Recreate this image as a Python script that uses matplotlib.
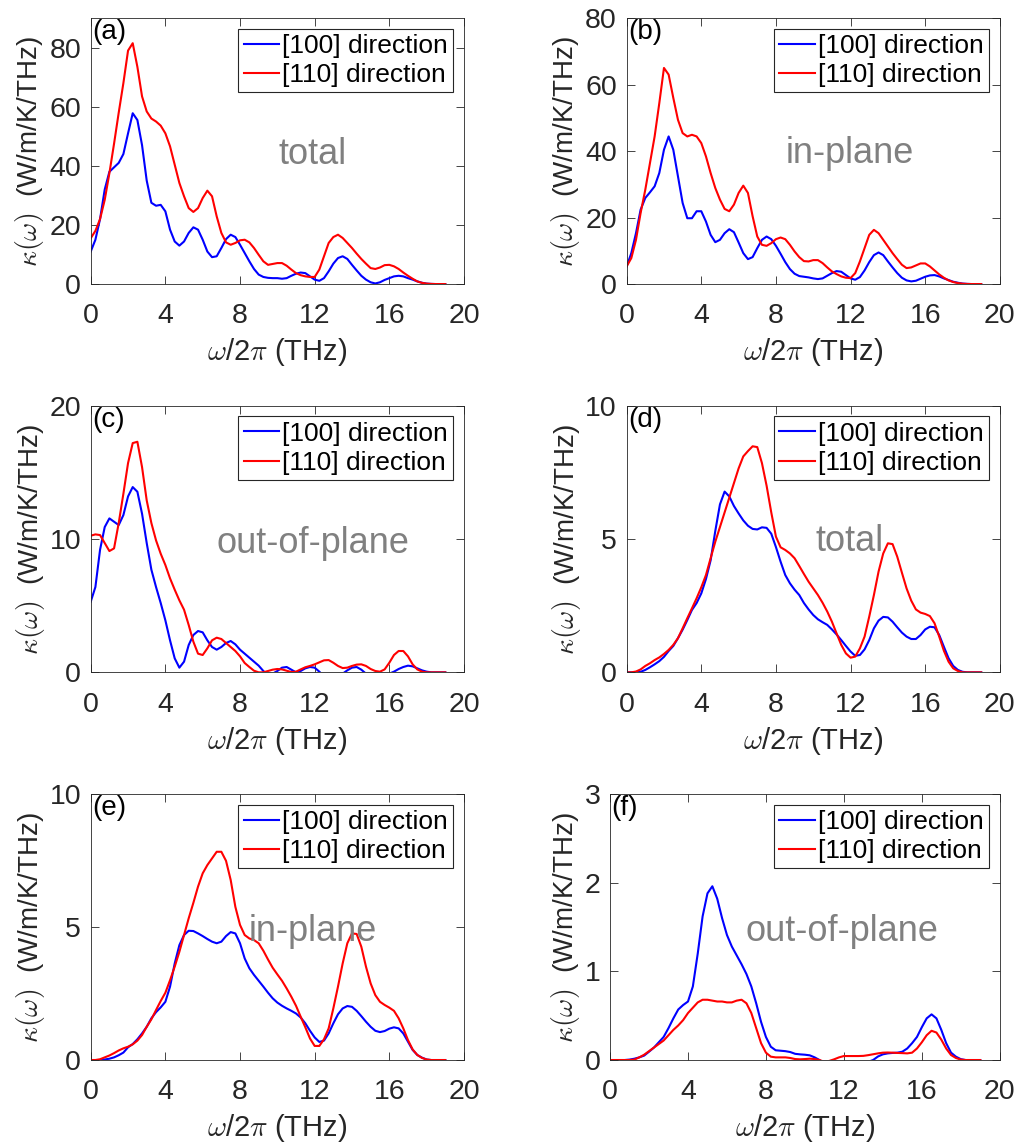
import numpy as np
import matplotlib
matplotlib.use('Agg')
import matplotlib.pyplot as plt

plt.rcParams['font.family'] = ['Liberation Sans', 'DejaVu Sans']
plt.rcParams['mathtext.fontset'] = 'cm'

# frequency grid (THz), 0 .. 19 in steps of 0.25
freq = np.arange(77) * 0.25

# (a) total, bulk-like
a_100 = [11, 15, 22, 32, 38, 39.5, 41, 44,
         51, 57.8, 55.5, 47, 35, 27.5, 26.5, 26.8,
         24.6, 18.4, 14.4, 13, 14.4, 17.3, 19.2, 18.4,
         15, 11, 9.1, 9.4, 12.2, 15.2, 16.7, 15.9,
         13.3, 10.5, 7.7, 5.1, 3.2, 2.4, 2.1, 2.0,
         2.0, 1.8, 2.0, 2.8, 3.5, 3.9, 3.7, 2.6,
         1.5, 1.1, 2.0, 4.3, 6.9, 8.8, 9.4, 8.5,
         6.5, 4.6, 2.8, 1.5, 0.6, 0.2, 0.6, 1.4,
         2.0, 2.6, 2.8, 2.6, 2.0, 1.5, 0.9, 0.45,
         0.15, 0.05, 0, 0, 0]
a_110 = [15.5, 18, 22, 28.5, 37.5, 47.5, 58, 68,
         79, 81.5, 73.5, 63.5, 58.4, 56, 55, 53.6,
         51, 46.6, 40.4, 34.2, 29.7, 25.7, 24.4, 25.7,
         29.1, 31.6, 29.7, 22.9, 17.3, 14.1, 13.3, 13.9,
         14.8, 15.0, 14.1, 12.2, 9.9, 7.7, 6.5, 6.8,
         7.1, 7.1, 6.2, 4.9, 3.7, 3.0, 2.6, 2.4,
         2.4, 4.9, 9.4, 13.9, 15.9, 16.7, 15.6, 13.9,
         12.2, 10.3, 8.5, 6.9, 5.4, 5.1, 5.6, 6.4,
         6.5, 6.0, 5.1, 3.9, 2.8, 1.8, 0.9, 0.4,
         0.15, 0.05, 0, 0, 0]

# (b) in-plane
b_100 = [5.3, 9.3, 15.3, 22.4, 25.9, 27.6, 29.4, 33.4,
         40.4, 44.4, 40.4, 32.4, 24.4, 19.8, 19.8, 21.9,
         21.9, 18.8, 14.8, 12.6, 13.3, 15.3, 16.5, 15.6,
         12.5, 9.3, 7.5, 8.1, 10.8, 13.3, 14.3, 13.5,
         11.5, 9.1, 6.6, 4.5, 3.1, 2.4, 2.2, 2.0,
         1.7, 1.5, 1.7, 2.5, 3.3, 3.9, 3.7, 2.7,
         1.7, 1.3, 2.1, 4.1, 6.6, 8.7, 9.5, 8.7,
         6.8, 5.0, 3.3, 1.9, 1.1, 0.8, 1.0, 1.6,
         2.2, 2.6, 2.7, 2.3, 1.7, 1.2, 0.7, 0.4,
         0.15, 0.05, 0, 0, 0]
b_110 = [5.3, 7.8, 13.3, 21.4, 28.4, 36.4, 44.4, 54.4,
         65, 63, 56, 49.4, 45.4, 44.4, 44.9, 44.4,
         42.4, 38.4, 33.4, 28.9, 25.4, 22.6, 21.9, 23.9,
         27.4, 29.6, 27.4, 20.4, 14.3, 11.8, 11.5, 12.3,
         13.5, 14.0, 13.5, 11.8, 9.8, 8.1, 6.9, 6.8,
         7.2, 7.2, 6.3, 5.0, 3.8, 3.0, 2.3, 1.9,
         1.8, 3.3, 6.8, 10.8, 14.8, 16.3, 15.3, 13.3,
         11.3, 9.3, 7.5, 5.8, 4.8, 5.0, 5.6, 6.2,
         6.2, 5.3, 4.1, 2.9, 1.9, 1.1, 0.6, 0.3,
         0.1, 0.03, 0, 0, 0]

# (c) out-of-plane
c_100 = [5.3, 6.4, 9.2, 10.9, 11.55, 11.3, 11.05, 11.8,
         13.2, 13.9, 13.55, 11.9, 9.7, 7.7, 6.4, 5.2,
         3.9, 2.4, 1.05, 0.35, 0.8, 2.05, 2.8, 3.1,
         3.0, 2.4, 1.9, 1.7, 1.9, 2.2, 2.35, 2.1,
         1.7, 1.4, 1.1, 0.8, 0.5, 0.1, -0.2, -0.1,
         0.1, 0.35, 0.4, 0.2, 0.0, 0.1, 0.3, 0.4,
         0.35, 0.05, -0.3, -0.4, -0.4, -0.3, -0.1, 0.15,
         0.35, 0.4, 0.2, -0.1, -0.3, -0.4, -0.4, -0.3,
         -0.1, 0.05, 0.25, 0.4, 0.5, 0.45, 0.3, 0.15,
         0.05, 0, 0, 0, 0]
c_110 = [10.25, 10.35, 10.3, 9.7, 9.1, 9.3, 11.2, 13.4,
         15.7, 17.2, 17.3, 15.4, 12.9, 11.2, 9.9, 8.9,
         8.05, 7.05, 6.2, 5.4, 4.7, 3.55, 2.3, 1.4,
         1.3, 1.8, 2.4, 2.6, 2.5, 2.2, 1.9, 1.6,
         1.2, 0.7, 0.4, 0.12, 0.0, 0.0, 0.1, 0.2,
         0.25, 0.22, 0.12, 0.02, 0.05, 0.22, 0.38, 0.48,
         0.6, 0.75, 0.9, 0.92, 0.72, 0.48, 0.32, 0.35,
         0.48, 0.58, 0.6, 0.48, 0.25, 0.1, 0.05, 0.22,
         0.72, 1.3, 1.6, 1.6, 1.2, 0.6, 0.22, 0.05,
         0, 0, 0, 0, 0]

# (d) total, second system
d_100 = [0, 0, 0, 0.02, 0.09, 0.19, 0.3, 0.42,
         0.58, 0.8, 0.99, 1.28, 1.6, 1.96, 2.34, 2.6,
         2.96, 3.5, 4.2, 5.3, 6.3, 6.78, 6.6, 6.24,
         5.96, 5.7, 5.5, 5.38, 5.36, 5.44, 5.42, 5.2,
         4.7, 4.15, 3.65, 3.34, 3.1, 2.9, 2.6, 2.36,
         2.15, 1.99, 1.88, 1.78, 1.61, 1.42, 1.21, 0.99,
         0.78, 0.62, 0.65, 0.86, 1.21, 1.65, 1.94, 2.08,
         2.06, 1.9, 1.69, 1.49, 1.34, 1.25, 1.25, 1.4,
         1.61, 1.71, 1.69, 1.4, 0.96, 0.53, 0.24, 0.09,
         0.02, 0, 0, 0, 0]
d_110 = [0, 0, 0.03, 0.11, 0.24, 0.34, 0.46, 0.56,
         0.69, 0.84, 1.03, 1.28, 1.65, 2.03, 2.4, 2.78,
         3.19, 3.65, 4.28, 4.9, 5.45, 6.0, 6.55, 7.1,
         7.65, 8.1, 8.3, 8.48, 8.45, 7.85, 7.0, 6.0,
         5.09, 4.69, 4.59, 4.46, 4.28, 3.99, 3.69, 3.4,
         3.15, 2.9, 2.61, 2.28, 1.9, 1.46, 1.03, 0.71,
         0.55, 0.59, 0.9, 1.34, 2.09, 2.9, 3.78, 4.46,
         4.84, 4.81, 4.34, 3.74, 3.15, 2.69, 2.36, 2.24,
         2.19, 2.11, 1.84, 1.34, 0.81, 0.4, 0.15, 0.05,
         0, 0, 0, 0, 0]

# (e) in-plane, second system
e_100 = [0, 0, 0, 0.02, 0.05, 0.1, 0.18, 0.28,
         0.48, 0.6, 0.78, 1.0, 1.25, 1.57, 1.8, 1.98,
         2.19, 2.76, 3.63, 4.32, 4.7, 4.86, 4.85, 4.76,
         4.66, 4.55, 4.45, 4.39, 4.45, 4.66, 4.81, 4.76,
         4.39, 3.82, 3.45, 3.2, 2.98, 2.76, 2.53, 2.32,
         2.16, 2.04, 1.94, 1.85, 1.75, 1.6, 1.38, 1.1,
         0.85, 0.68, 0.73, 1.0, 1.38, 1.72, 1.94, 2.03,
         2.0, 1.85, 1.65, 1.44, 1.25, 1.1, 1.05, 1.09,
         1.18, 1.23, 1.19, 1.0, 0.69, 0.38, 0.19, 0.09,
         0.02, 0, 0, 0, 0]
e_110 = [0, 0, 0.03, 0.1, 0.17, 0.26, 0.36, 0.44,
         0.5, 0.59, 0.73, 0.94, 1.25, 1.53, 1.88, 2.22,
         2.53, 3.0, 3.51, 4.07, 4.7, 5.33, 5.91, 6.52,
         7.02, 7.33, 7.58, 7.83, 7.83, 7.49, 6.77, 5.76,
         5.08, 4.7, 4.57, 4.51, 4.39, 4.11, 3.78, 3.47,
         3.22, 2.98, 2.69, 2.38, 2.04, 1.63, 1.23, 0.81,
         0.53, 0.53, 0.78, 1.19, 1.94, 2.76, 3.63, 4.39,
         4.76, 4.74, 4.26, 3.51, 2.88, 2.44, 2.19, 2.07,
         1.97, 1.85, 1.57, 1.19, 0.75, 0.4, 0.19, 0.08,
         0.02, 0, 0, 0, 0]

# (f) out-of-plane, second system
f_100 = [0, 0, 0, 0, 0.005, 0.015, 0.03, 0.05,
         0.094, 0.14, 0.2, 0.26, 0.36, 0.47, 0.57, 0.62,
         0.66, 0.83, 1.2, 1.62, 1.88, 1.96, 1.82, 1.6,
         1.41, 1.28, 1.18, 1.08, 0.97, 0.83, 0.64, 0.43,
         0.26, 0.15, 0.11, 0.105, 0.1, 0.09, 0.07, 0.064,
         0.06, 0.053, 0.03, 0.0, -0.05, -0.08, -0.1, -0.1,
         -0.1, -0.1, -0.08, -0.06, -0.04, -0.02, 0.0, 0.04,
         0.064, 0.075, 0.08, 0.083, 0.094, 0.13, 0.19, 0.26,
         0.37, 0.47, 0.515, 0.47, 0.34, 0.19, 0.083, 0.038,
         0.01, 0, 0, 0, 0]
f_110 = [0, 0, 0, 0, 0, 0.005, 0.03, 0.06,
         0.1, 0.14, 0.18, 0.22, 0.28, 0.34, 0.39, 0.45,
         0.53, 0.59, 0.65, 0.68, 0.68, 0.67, 0.66, 0.66,
         0.65, 0.65, 0.67, 0.68, 0.64, 0.53, 0.36, 0.19,
         0.083, 0.038, 0.03, 0.03, 0.03, 0.023, 0.011, 0.008,
         0.011, 0.015, 0.011, 0.0, -0.02, -0.01, 0.008, 0.03,
         0.045, 0.045, 0.045, 0.045, 0.047, 0.055, 0.065, 0.075,
         0.083, 0.085, 0.083, 0.08, 0.078, 0.075, 0.083, 0.13,
         0.2, 0.28, 0.33, 0.31, 0.23, 0.13, 0.056, 0.023,
         0.005, 0, 0, 0, 0]

letters = ['(a)', '(b)', '(c)', '(d)', '(e)', '(f)']
tags = ['total', 'in-plane', 'out-of-plane', 'total', 'in-plane', 'out-of-plane']
series = [(a_100, a_110), (b_100, b_110), (c_100, c_110),
          (d_100, d_110), (e_100, e_110), (f_100, f_110)]
ymax = [90, 80, 20, 10, 10, 3]
yticks = [[0, 20, 40, 60, 80], [0, 20, 40, 60, 80], [0, 10, 20],
          [0, 5, 10], [0, 5, 10], [0, 1, 2, 3]]
tag_xy = [(11.9, 44), (11.96, 39.4), (11.9, 9.7), (11.96, 4.9), (11.9, 4.82), (11.9, 1.45)]

positions = [[0.088, 0.7517, 0.362, 0.2325],
             [0.6078, 0.7517, 0.362, 0.2325],
             [0.088, 0.4123, 0.362, 0.233],
             [0.6078, 0.4123, 0.362, 0.233],
             [0.088, 0.0734, 0.362, 0.2325],
             [0.5917, 0.0734, 0.378, 0.2325]]

dark = '0.15'
fig = plt.figure(figsize=(10.31, 11.44), dpi=100)

for i in range(6):
    ax = fig.add_axes(positions[i])
    k100, k110 = series[i]
    ax.plot(freq, k100, color='blue', lw=1.5, label='[100] direction')
    ax.plot(freq, k110, color='red', lw=1.5, label='[110] direction')
    ax.set_xlim(0, 20)
    ax.set_ylim(0, ymax[i])
    ax.set_xticks([0, 4, 8, 12, 16, 20])
    ax.set_yticks(yticks[i])
    ax.tick_params(direction='in', length=6, width=0.6, top=True, right=True,
                   labelsize=20.5, colors=dark, labelcolor=dark)
    ax.tick_params(axis='x', pad=14)
    ax.tick_params(axis='y', pad=7)
    for sp in ax.spines.values():
        sp.set_color(dark)
        sp.set_linewidth(0.6)
    ax.set_xlabel(r'$\omega$/2$\pi$ (THz)', fontsize=21, color=dark, labelpad=5)
    ax.set_ylabel(r'$\kappa(\omega)$  (W/m/K/THz)', fontsize=20, color=dark, labelpad=2)
    ax.text(0.004, 0.995, letters[i], transform=ax.transAxes, fontsize=20,
            ha='left', va='top', color='black')
    ax.text(tag_xy[i][0], tag_xy[i][1], tags[i], fontsize=26, color='0.5',
            ha='center', va='center')
    leg = ax.legend(loc='upper right', fontsize=19, handlelength=1.35,
                    handletextpad=0.12, borderpad=0.2, labelspacing=0.2,
                    borderaxespad=0.4, fancybox=False, framealpha=1)
    leg.get_frame().set_edgecolor(dark)
    leg.get_frame().set_linewidth(0.8)

fig.savefig('out.png', dpi=100)
